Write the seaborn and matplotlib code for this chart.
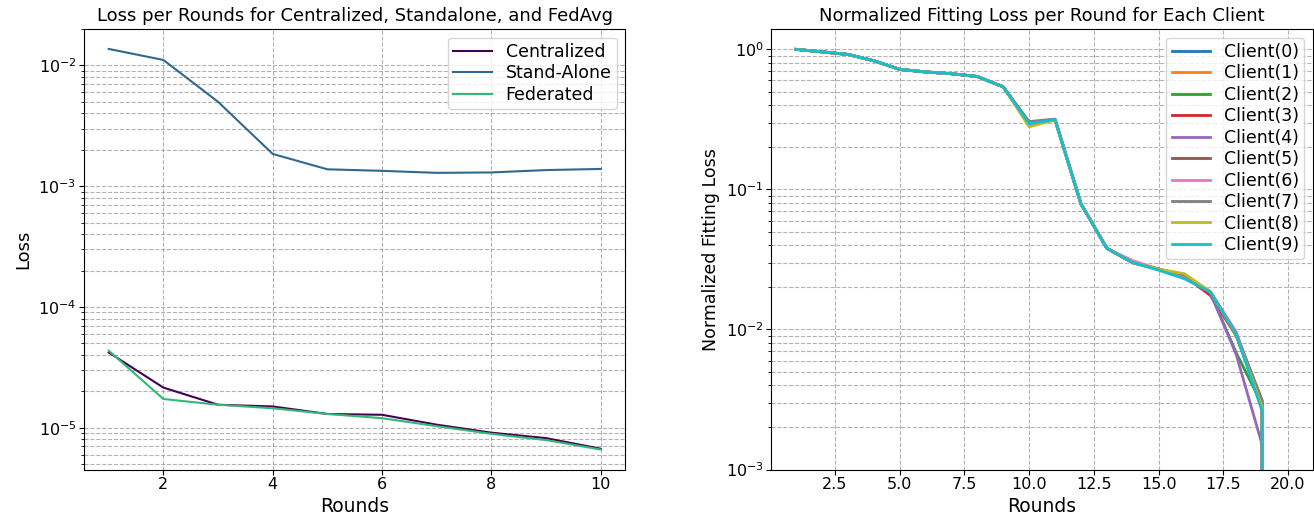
import numpy as np
import pandas as pd
import matplotlib
matplotlib.use("Agg")
import matplotlib.pyplot as plt
import seaborn as sns

# ---- left panel: loss per round for the three training setups ----
rounds_short = [1, 2, 3, 4, 5, 6, 7, 8, 9, 10]
centralized = [4.2e-5, 2.15e-5, 1.55e-5, 1.5e-5, 1.3e-5, 1.28e-5, 1.06e-5, 9.1e-6, 8.2e-6, 6.7e-6]
stand_alone = [0.0137, 0.0111, 0.0050, 0.00185, 0.00138, 0.00134, 0.00129, 0.0013, 0.00136, 0.00139]
federated = [4.35e-5, 1.73e-5, 1.55e-5, 1.45e-5, 1.3e-5, 1.2e-5, 1.03e-5, 8.9e-6, 7.9e-6, 6.6e-6]
method_names = ["Centralized", "Stand-Alone", "Federated"]

# ---- right panel: normalized fitting loss per client ----
rounds_long = list(range(1, 21))
client_loss = [
    [1.0, 0.96, 0.92, 0.83, 0.72, 0.69, 0.67, 0.64, 0.54, 0.295, 0.315, 0.079, 0.038, 0.030, 0.027, 0.024, 0.0185, 0.0091, 0.0029, 0.0],
    [1.0, 0.96, 0.92, 0.83, 0.72, 0.69, 0.67, 0.64, 0.54, 0.29, 0.315, 0.079, 0.038, 0.030, 0.027, 0.024, 0.0185, 0.0090, 0.0029, 0.0],
    [1.0, 0.96, 0.92, 0.83, 0.72, 0.69, 0.67, 0.64, 0.54, 0.295, 0.315, 0.079, 0.038, 0.030, 0.027, 0.024, 0.0182, 0.0068, 0.0029, 0.0],
    [1.0, 0.96, 0.92, 0.83, 0.72, 0.69, 0.67, 0.64, 0.54, 0.295, 0.315, 0.079, 0.038, 0.030, 0.027, 0.024, 0.0175, 0.0090, 0.0029, 0.0],
    [1.0, 0.96, 0.92, 0.83, 0.72, 0.69, 0.67, 0.64, 0.54, 0.295, 0.315, 0.079, 0.038, 0.030, 0.027, 0.024, 0.0183, 0.0066, 0.0015, 0.0],
    [1.0, 0.96, 0.92, 0.83, 0.72, 0.69, 0.67, 0.64, 0.54, 0.30, 0.316, 0.079, 0.038, 0.030, 0.027, 0.0242, 0.0186, 0.0092, 0.0031, 0.0],
    [1.0, 0.96, 0.92, 0.83, 0.72, 0.69, 0.67, 0.64, 0.54, 0.295, 0.315, 0.079, 0.038, 0.031, 0.027, 0.024, 0.0186, 0.0096, 0.0029, 0.0],
    [1.0, 0.96, 0.92, 0.83, 0.72, 0.69, 0.67, 0.64, 0.54, 0.305, 0.318, 0.079, 0.038, 0.030, 0.027, 0.0245, 0.0186, 0.0093, 0.0031, 0.0],
    [1.0, 0.96, 0.92, 0.83, 0.72, 0.69, 0.67, 0.64, 0.54, 0.28, 0.313, 0.079, 0.038, 0.030, 0.027, 0.025, 0.0186, 0.0091, 0.0028, 0.0],
    [1.0, 0.96, 0.92, 0.83, 0.72, 0.69, 0.67, 0.64, 0.54, 0.295, 0.315, 0.079, 0.038, 0.030, 0.0265, 0.023, 0.0185, 0.0092, 0.0026, 0.0],
]
client_names = [f"Client({i})" for i in range(10)]

# long tables for seaborn
df_methods = pd.DataFrame({
    "Round": rounds_short * 3,
    "Loss": centralized + stand_alone + federated,
    "Method": [m for m in method_names for _ in rounds_short],
})
df_clients = pd.DataFrame({
    "Round": rounds_long * len(client_names),
    "Loss": [v for row in client_loss for v in row],
    "Client": [c for c in client_names for _ in rounds_long],
})

viridis = plt.get_cmap("viridis")
method_palette = [viridis(0.0), viridis(1 / 3), viridis(2 / 3)]
client_palette = sns.color_palette("tab10", 10)

fig, (ax1, ax2) = plt.subplots(1, 2, figsize=(13.14, 5.16), dpi=100)
fig.subplots_adjust(left=0.064, right=0.999, bottom=0.09, top=0.944, wspace=0.27)

legend_kw = dict(loc="upper right", fontsize=12.5, labelspacing=0.2,
                 borderpad=0.3, handlelength=2.2)

# left plot
sns.lineplot(data=df_methods, x="Round", y="Loss", hue="Method", hue_order=method_names,
             palette=method_palette, linewidth=1.5, ax=ax1)
ax1.set_yscale("log")
ax1.set_title("Loss per Rounds for Centralized, Standalone, and FedAvg", fontsize=13)
ax1.set_ylabel("Loss", fontsize=13)
h, l = ax1.get_legend_handles_labels()
ax1.legend(h, l, **legend_kw)

# right plot
sns.lineplot(data=df_clients, x="Round", y="Loss", hue="Client", hue_order=client_names,
             palette=client_palette, linewidth=2, ax=ax2)
ax2.set_yscale("log")
ax2.set_ylim(1e-3, 1.4)
ax2.set_xlim(0.05, 20.95)
ax2.set_title("Normalized Fitting Loss per Round for Each Client", fontsize=13)
ax2.set_ylabel("Normalized Fitting Loss", fontsize=12.5)
h, l = ax2.get_legend_handles_labels()
ax2.legend(h, l, **legend_kw)

# axes height in pixels, used to pin the x label against the bottom edge
axes_h_px = (0.944 - 0.09) * 516
for ax in (ax1, ax2):
    ax.set_xlabel("Rounds", fontsize=13.5, va="bottom")
    ax.xaxis.set_label_coords(0.5, -(0.09 * 516 - 0.5) / axes_h_px)
    ax.grid(True, which="both", linestyle="--", color="gray", alpha=0.6, linewidth=0.8)
    ax.tick_params(labelsize=11.5, pad=2)

fig.savefig("out.png", dpi=100)
